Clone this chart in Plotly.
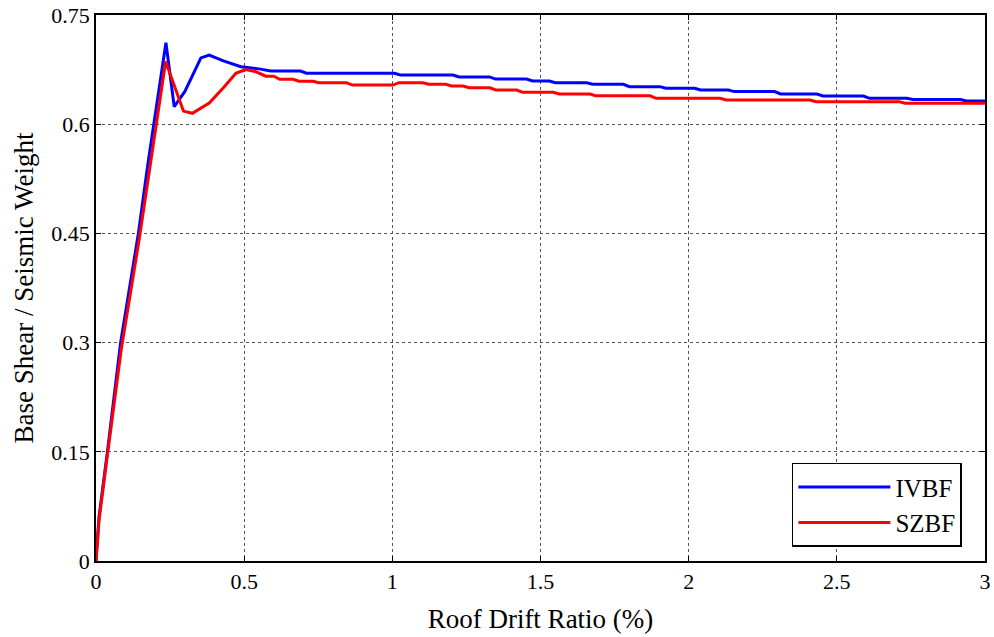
import plotly.graph_objects as go

# IVBF curve
ivbf_x = [0, 0.01, 0.04, 0.083, 0.143, 0.175, 0.236, 0.264, 0.30, 0.354, 0.382, 0.43, 0.489, 0.55, 0.59,
          0.69, 0.71, 1.007, 1.027, 1.205, 1.225, 1.328, 1.348, 1.453, 1.473, 1.53, 1.55, 1.656, 1.676,
          1.78, 1.80, 1.903, 1.923, 2.02, 2.04, 2.134, 2.154, 2.29, 2.31, 2.433, 2.453, 2.59, 2.61,
          2.737, 2.757, 2.917, 2.937, 3.0]
ivbf_y = [0, 0.06, 0.155, 0.30, 0.45, 0.545, 0.712, 0.624, 0.645, 0.691, 0.695, 0.687, 0.679, 0.676, 0.673,
          0.673, 0.670, 0.670, 0.6676, 0.6676, 0.665, 0.665, 0.662, 0.662, 0.6594, 0.6594, 0.657, 0.657, 0.6548,
          0.6548, 0.6516, 0.6516, 0.6493, 0.6493, 0.647, 0.647, 0.6448, 0.6448, 0.6415, 0.6415, 0.6387, 0.6387, 0.6355,
          0.6355, 0.634, 0.634, 0.6318, 0.6318]

# SZBF curve
szbf_x = [0, 0.01, 0.04, 0.085, 0.145, 0.185, 0.235, 0.295, 0.325, 0.382, 0.43, 0.472, 0.505, 0.54, 0.573,
          0.60, 0.62, 0.665, 0.685, 0.732, 0.752, 0.845, 0.865, 1.002, 1.022, 1.103, 1.123, 1.18, 1.20,
          1.239, 1.259, 1.329, 1.349, 1.42, 1.44, 1.543, 1.563, 1.667, 1.687, 1.87, 1.89, 2.106, 2.126,
          2.41, 2.43, 2.71, 2.73, 3.0]
szbf_y = [0, 0.055, 0.15, 0.29, 0.44, 0.55, 0.686, 0.618, 0.615, 0.629, 0.65, 0.67, 0.675, 0.672, 0.666,
          0.666, 0.6616, 0.6616, 0.659, 0.659, 0.657, 0.657, 0.6538, 0.6538, 0.657, 0.657, 0.6548, 0.6548, 0.6525,
          0.6525, 0.650, 0.650, 0.647, 0.647, 0.6438, 0.6438, 0.6415, 0.6415, 0.639, 0.639, 0.6355, 0.6355, 0.6332,
          0.6332, 0.631, 0.631, 0.6287, 0.6287]

x_ticks = [0, 0.5, 1, 1.5, 2, 2.5, 3]
x_tick_labels = ["0", "0.5", "1", "1.5", "2", "2.5", "3"]
y_ticks = [0, 0.15, 0.3, 0.45, 0.6, 0.75]
y_tick_labels = ["0", "0.15", "0.3", "0.45", "0.6", "0.75"]

font = "Liberation Serif"

fig = go.Figure()
fig.add_trace(go.Scatter(x=ivbf_x, y=ivbf_y, mode="lines", name="IVBF",
                         line=dict(color="#0000ff", width=3)))
fig.add_trace(go.Scatter(x=szbf_x, y=szbf_y, mode="lines", name="SZBF",
                         line=dict(color="#ff0000", width=3)))

axis_common = dict(
    showline=True, linecolor="black", linewidth=1.5, mirror="allticks",
    ticks="inside", ticklen=5, tickcolor="black", tickwidth=1,
    showgrid=True, gridcolor="#555555", griddash="dot", gridwidth=1,
    zeroline=False, automargin=False,
    tickfont=dict(family=font, size=22, color="black"),
)

fig.update_layout(
    width=994, height=637,
    margin=dict(l=96, r=9, t=15, b=76),
    paper_bgcolor="white", plot_bgcolor="white",
    font=dict(family=font, color="black"),
    xaxis=dict(range=[0, 3], tickvals=x_ticks, ticktext=x_tick_labels,
               title=dict(text="Roof Drift Ratio (%)", font=dict(family=font, size=27), standoff=16),
               **axis_common),
    yaxis=dict(range=[0, 0.75], tickvals=y_ticks, ticktext=y_tick_labels,
               title=dict(text="Base Shear / Seismic Weight", font=dict(family=font, size=27), standoff=10),
               **axis_common),
    legend=dict(x=0.974, y=0.026, xanchor="right", yanchor="bottom",
                bgcolor="white", bordercolor="black", borderwidth=1.5,
                font=dict(family=font, size=25, color="black"),
                itemwidth=92),
    showlegend=True,
)

fig.write_html("out.html", config={"displayModeBar": False},
               post_script="document.body.style.margin='0';document.body.style.overflow='hidden';")
